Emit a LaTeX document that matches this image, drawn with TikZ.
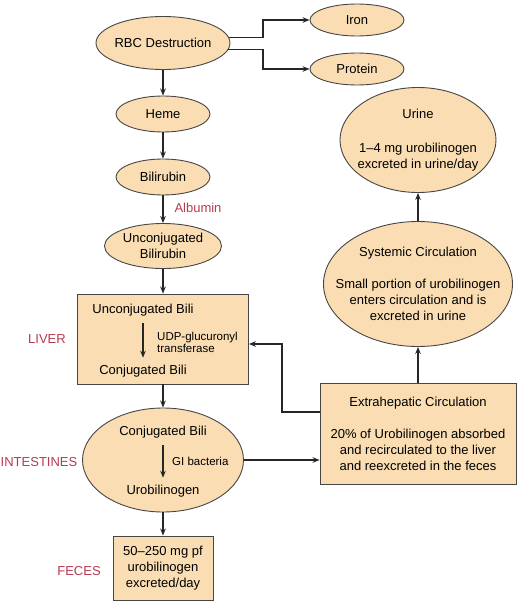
\documentclass[tikz,border=0pt]{standalone}
\usepackage{fontspec}
\setmainfont{Liberation Sans}
\usetikzlibrary{arrows.meta,shapes.geometric}
\definecolor{bilifill}{RGB}{250,221,178}
\definecolor{organred}{RGB}{183,58,78}
\definecolor{rimgray}{RGB}{70,70,70}
\tikzset{
  bili node/.style={ellipse,draw=rimgray,line width=0.9pt,fill=bilifill,inner xsep=-40pt,inner ysep=-40pt,align=center,font=\fontsize{13}{16}\selectfont},
  bili box/.style={rectangle,draw=rimgray,line width=0.9pt,fill=bilifill,inner sep=0pt,align=center,font=\fontsize{13}{16}\selectfont},
  step text/.style={inner xsep=2pt,inner ysep=7pt,font=\fontsize{13}{16}\selectfont},
  enzyme text/.style={anchor=west,align=left,inner sep=0pt,font=\fontsize{11.5}{12}\selectfont},
  organ label/.style={text=organred,font=\fontsize{13}{16}\selectfont},
  flow edge/.style={-{Stealth[length=7pt,width=5.5pt]},line width=1.2pt,black!85},
}

\begin{document}
\begin{tikzpicture}[x=1pt,y=-1pt]
  \useasboundingbox (0,0) rectangle (520,602);
  \node[bili node,minimum width=134pt,minimum height=53pt] (rbc) at (163,43) {RBC Destruction};
  \node[bili node,minimum width=94pt,minimum height=36pt] (heme) at (163,114) {Heme};
  \node[bili node,minimum width=94pt,minimum height=36pt] (bili) at (163,177) {Bilirubin};
  \node[bili node,minimum width=117pt,minimum height=45pt] (unconj) at (163,246) {Unconjugated\\Bilirubin};
  \node[bili box,minimum width=171pt,minimum height=90pt] (liver) at (163,339) {};
  \node[step text] (ubili) at (143,310) {Unconjugated Bili};
  \node[step text] (cbili) at (143,371) {Conjugated Bili};
  \node[enzyme text] (udp) at (157,342) {UDP-glucuronyl\\transferase};
  \node[bili node,minimum width=161pt,minimum height=104pt] (gut) at (163,460) {};
  \node[step text] (gbili) at (163,432) {Conjugated Bili};
  \node[step text] (urob) at (163,491) {Urobilinogen};
  \node[enzyme text] (gibac) at (172,461) {GI bacteria};
  \node[bili box,minimum width=100pt,minimum height=64pt] (feces) at (163,568) {50--250 mg pf\\urobilinogen\\excreted/day};

  \node[organ label] (albumin) at (198,208) {Albumin};
  \node[organ label] (liverlab) at (47,339) {LIVER};
  \node[organ label] (gutlab) at (39,462) {INTESTINES};
  \node[organ label] (feceslab) at (79,571) {FECES};

  \node[bili node,minimum width=94pt,minimum height=32pt] (iron) at (357,20) {Iron};
  \node[bili node,minimum width=94pt,minimum height=32pt] (protein) at (357,69) {Protein};
  \node[bili node,minimum width=156pt,minimum height=105pt] (urine) at (418,140) {Urine\\[18pt]1--4 mg urobilinogen\\excreted in urine/day};
  \node[bili node,minimum width=189pt,minimum height=125pt] (sys) at (418,284) {Systemic Circulation\\[16pt]Small portion of urobilinogen\\enters circulation and is\\excreted in urine};
  \node[bili box,minimum width=196pt,minimum height=101pt] (ext) at (418,434) {Extrahepatic Circulation\\[16pt]20\% of Urobilinogen absorbed\\and recirculated to the liver\\and reexcreted in the feces};

  \draw[flow edge] (rbc) -- (heme);
  \draw[flow edge] (heme) -- (bili);
  \draw[flow edge] (bili) -- (unconj);
  \draw[flow edge] (unconj) -- (liver);
  \draw[flow edge] (ubili) -- (cbili);
  \draw[flow edge] (liver) -- (gut);
  \draw[flow edge] (gbili) -- (urob);
  \draw[flow edge] (gut) -- (feces);
  \coordinate (split) at (263,43);
  \draw[flow edge] (rbc.5) -- (rbc.5 -| split) |- (iron);
  \draw[flow edge] (rbc.-6) -- (rbc.-6 -| split) |- (protein);
  \draw[flow edge] (gut) -- (gut -| ext.west);
  \coordinate (back) at (282,344);
  \draw[flow edge] ([yshift=22pt]ext.west) -| (back) -- (back -| liver.east);
  \draw[flow edge] (ext) -- (sys);
  \draw[flow edge] (sys) -- (urine);
\end{tikzpicture}
\end{document}
